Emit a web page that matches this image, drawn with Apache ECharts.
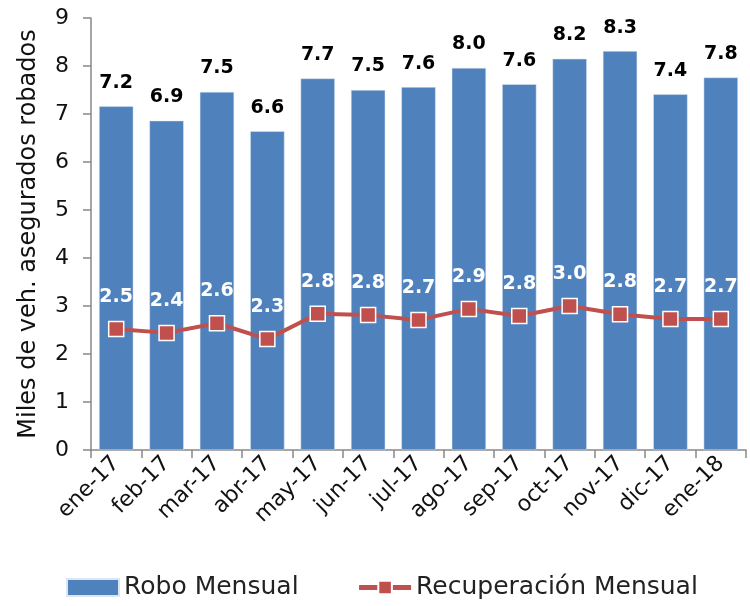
<!DOCTYPE html>
<html>
<head>
<meta charset="utf-8">
<script src="https://cdn.jsdelivr.net/npm/echarts@6/dist/echarts.min.js"></script>
<style>
  html, body { margin: 0; padding: 0; background: #fff; }
  #chart { width: 750px; height: 606px; }
</style>
</head>
<body>
<div id="chart"></div>
<script>
// meses
var categories = ["ene-17", "feb-17", "mar-17", "abr-17", "may-17", "jun-17", "jul-17",
  "ago-17", "sep-17", "oct-17", "nov-17", "dic-17", "ene-18"];
// miles de vehiculos
var roboMensual = [7.16, 6.86, 7.46, 6.64, 7.74, 7.5, 7.56, 7.96, 7.62, 8.15, 8.31, 7.41, 7.76];
var recuperacionMensual = [2.52, 2.44, 2.64, 2.31, 2.84, 2.81, 2.71, 2.94, 2.79, 3.0, 2.83, 2.73, 2.73];
var yTicks = [0, 1, 2, 3, 4, 5, 6, 7, 8, 9];

var fontName = "DejaVu Sans";
var chart = echarts.init(document.getElementById("chart"));

var option = {
  backgroundColor: "#fff",
  animation: false,
  textStyle: { fontFamily: fontName },
  grid: { left: 91, right: 4, top: 18, bottom: 156, containLabel: false },
  legend: {
    bottom: 1,
    left: 61,
    itemGap: 58,
    itemWidth: 52,
    itemHeight: 17,
    textStyle: { fontSize: 25, color: "#222", fontFamily: fontName },
    data: [
      { name: "Robo Mensual", icon: "rect" },
      { name: "Recuperación Mensual", lineStyle: { width: 5 } }
    ]
  },
  xAxis: {
    type: "category",
    data: categories,
    axisLine: { lineStyle: { color: "#888", width: 1.5 } },
    axisTick: { show: true, length: 8, lineStyle: { color: "#888", width: 1.5 } },
    axisLabel: {
      rotate: 45,
      interval: 0,
      fontSize: 22,
      color: "#111",
      margin: 10
    }
  },
  yAxis: {
    type: "value",
    min: yTicks[0],
    max: yTicks[yTicks.length - 1],
    interval: 1,
    name: "Miles de veh. asegurados robados",
    nameLocation: "middle",
    nameGap: 50,
    nameTextStyle: { fontSize: 24, color: "#111" },
    axisLine: { show: true, lineStyle: { color: "#888", width: 1.5 } },
    axisTick: { show: true, length: 8, lineStyle: { color: "#888", width: 1.5 } },
    splitLine: { show: false },
    axisLabel: { fontSize: 22, color: "#111", margin: 22 }
  },
  series: [
    {
      name: "Robo Mensual",
      type: "bar",
      data: roboMensual,
      barCategoryGap: "32%",
      itemStyle: { color: "#4F81BD", borderColor: "#dce6f2", borderWidth: 0.5 },
      label: {
        show: true,
        position: "top",
        distance: 14,
        fontSize: 19,
        fontWeight: "bold",
        color: "#000",
        formatter: function (p) { return p.value.toFixed(1); }
      },
      z: 1
    },
    {
      name: "Recuperación Mensual",
      type: "line",
      data: recuperacionMensual,
      symbol: "rect",
      symbolSize: 15,
      color: "#C0504D",
      lineStyle: { color: "#C0504D", width: 4 },
      itemStyle: { color: "#C0504D", borderColor: "#fff", borderWidth: 1.5 },
      label: {
        show: true,
        position: "top",
        distance: 14,
        fontSize: 19,
        fontWeight: "bold",
        color: "#fff",
        formatter: function (p) { return p.value.toFixed(1); }
      },
      z: 3
    }
  ]
};

chart.setOption(option);
</script>
</body>
</html>
